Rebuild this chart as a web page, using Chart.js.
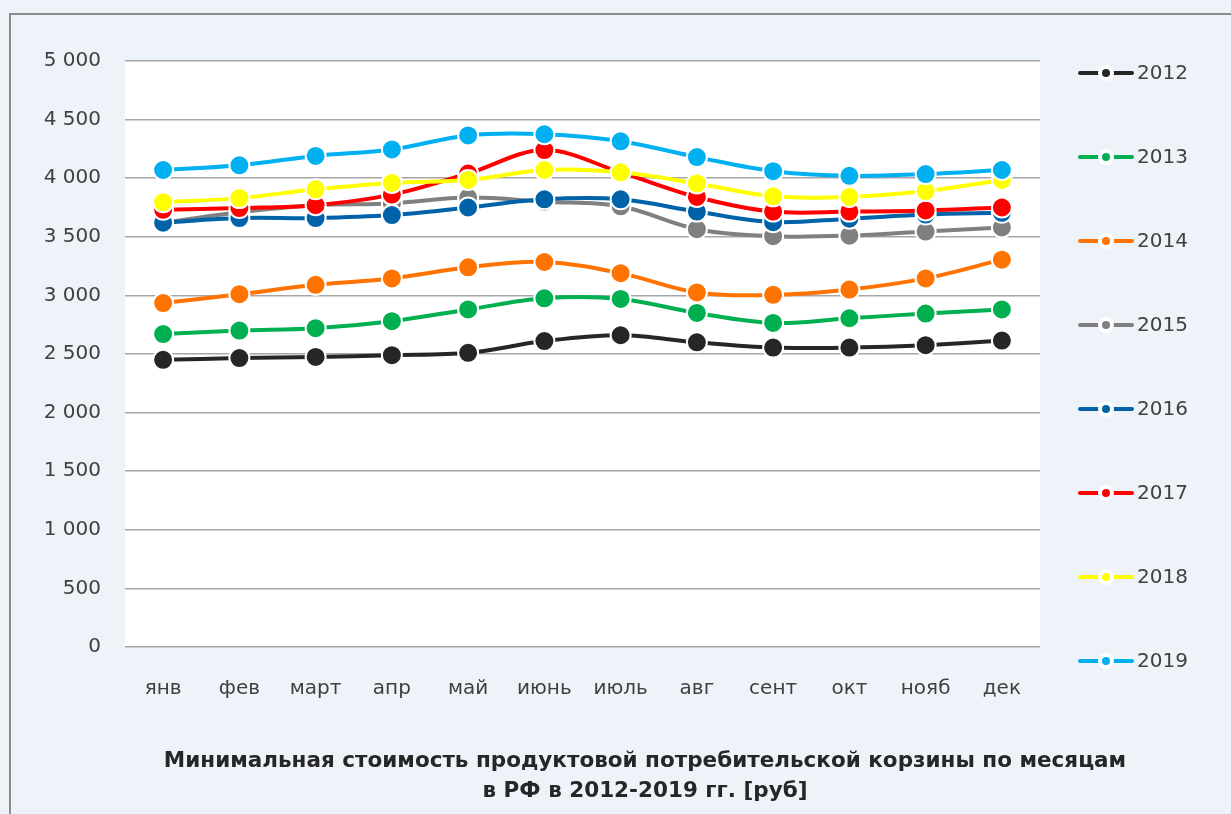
<!DOCTYPE html>
<html>
<head>
<meta charset="utf-8">
<script src="https://cdn.jsdelivr.net/npm/chart.js@4"></script>
<style>
  html, body { margin: 0; padding: 0; background: #eef2f9; }
  #wrap { width: 1231px; height: 814px; }
</style>
</head>
<body>
<div id="wrap"><canvas id="basketChart" width="1231" height="814"></canvas></div>
<script>
const months = ['янв', 'фев', 'март', 'апр', 'май', 'июнь', 'июль', 'авг', 'сент', 'окт', 'нояб', 'дек'];
const years = ['2012', '2013', '2014', '2015', '2016', '2017', '2018', '2019'];

const cost2012 = [2450, 2465, 2475, 2490, 2510, 2610, 2660, 2600, 2555, 2555, 2575, 2615];
const cost2013 = [2670, 2700, 2720, 2780, 2880, 2975, 2970, 2850, 2765, 2805, 2845, 2880];
const cost2014 = [2935, 3010, 3090, 3145, 3240, 3285, 3190, 3025, 3005, 3050, 3145, 3305];
const cost2015 = [3620, 3710, 3770, 3785, 3835, 3800, 3760, 3565, 3505, 3510, 3545, 3580];
const cost2016 = [3620, 3660, 3660, 3685, 3750, 3820, 3820, 3715, 3625, 3655, 3690, 3705];
const cost2017 = [3730, 3745, 3770, 3860, 4040, 4240, 4050, 3840, 3715, 3715, 3725, 3750];
const cost2018 = [3795, 3830, 3905, 3960, 3985, 4070, 4050, 3955, 3845, 3840, 3890, 3985];
const cost2019 = [4070, 4110, 4190, 4245, 4365, 4375, 4315, 4180, 4060, 4020, 4035, 4070];

const yTicks = [0, 500, 1000, 1500, 2000, 2500, 3000, 3500, 4000, 4500, 5000];
const chartTitle = ['Минимальная стоимость продуктовой потребительской корзины по месяцам', 'в РФ в 2012-2019 гг. [руб]'];

const seriesValues = [cost2012, cost2013, cost2014, cost2015, cost2016, cost2017, cost2018, cost2019];
const colors = ['#262626', '#00b050', '#ff7300', '#808080', '#0062a8', '#ff0000', '#ffff00', '#00b0f0'];

const FONT = 'DejaVu Sans';

// format 5000 -> "5 000"
function fmt(v) {
  return String(v).replace(/\B(?=(\d{3})+(?!\d))/g, ' ');
}

// page background, frame (top + left edge only) and white plot area
const backdrop = {
  id: 'backdrop',
  beforeDraw(chart) {
    const { ctx, chartArea } = chart;
    ctx.save();
    ctx.fillStyle = '#eef2f9';
    ctx.fillRect(0, 0, chart.width, chart.height);
    ctx.strokeStyle = '#8c8c8c';
    ctx.lineWidth = 2;
    ctx.beginPath();
    ctx.moveTo(10, chart.height);
    ctx.lineTo(10, 14);
    ctx.lineTo(chart.width, 14);
    ctx.stroke();
    ctx.fillStyle = '#ffffff';
    ctx.fillRect(chartArea.left, chartArea.top, chartArea.right - chartArea.left, chartArea.bottom - chartArea.top);
    ctx.restore();
  }
};

// legend on the right and the title underneath
const sideLegend = {
  id: 'sideLegend',
  afterDraw(chart) {
    const ctx = chart.ctx;
    ctx.save();
    chart.data.datasets.forEach((ds, i) => {
      const y = 73 + i * 84;
      ctx.strokeStyle = ds.borderColor;
      ctx.lineWidth = 4;
      ctx.lineCap = 'round';
      ctx.beginPath();
      ctx.moveTo(1080, y);
      ctx.lineTo(1132, y);
      ctx.stroke();
      ctx.fillStyle = '#ffffff';
      ctx.beginPath();
      ctx.arc(1106, y, 8, 0, Math.PI * 2);
      ctx.fill();
      ctx.fillStyle = ds.borderColor;
      ctx.beginPath();
      ctx.arc(1106, y, 4, 0, Math.PI * 2);
      ctx.fill();
      ctx.fillStyle = '#404040';
      ctx.font = '20px "' + FONT + '"';
      ctx.textAlign = 'left';
      ctx.textBaseline = 'middle';
      ctx.fillText(ds.label, 1137, y + 1);
    });
    ctx.fillStyle = '#262626';
    ctx.font = 'bold 21.5px "' + FONT + '"';
    ctx.textAlign = 'center';
    ctx.textBaseline = 'middle';
    ctx.fillText(chartTitle[0], 645, 761);
    ctx.fillText(chartTitle[1], 645, 791);
    ctx.restore();
  }
};

const ctx = document.getElementById('basketChart').getContext('2d');
const basketChart = new Chart(ctx, {
  type: 'line',
  data: {
    labels: months,
    datasets: years.map((year, i) => ({
      label: year,
      data: seriesValues[i],
      borderColor: colors[i],
      backgroundColor: colors[i],
      pointBackgroundColor: colors[i],
      pointBorderColor: '#ffffff',
      pointBorderWidth: 2,
      pointRadius: 10,
      pointHoverRadius: 10,
      borderWidth: 4,
      tension: 0.35,
      order: years.length - 1 - i,
      fill: false
    }))
  },
  options: {
    responsive: false,
    animation: false,
    layout: {
      padding: { left: 0, top: 61, right: 191, bottom: 107 }
    },
    plugins: {
      legend: { display: false },
      tooltip: { enabled: false }
    },
    scales: {
      x: {
        offset: true,
        grid: { display: false, drawTicks: false },
        border: { display: false },
        ticks: {
          color: '#404040',
          font: { family: FONT, size: 20 },
          padding: 30,
          maxRotation: 0,
          autoSkip: false
        },
        afterFit(scale) { scale.height = 60; }
      },
      y: {
        min: 0,
        max: 5000,
        afterBuildTicks(scale) {
          scale.ticks = yTicks.map(v => ({ value: v }));
        },
        grid: { color: '#a6a6a6', lineWidth: 1.5, drawTicks: false },
        border: { display: false },
        ticks: {
          color: '#404040',
          font: { family: FONT, size: 20 },
          padding: 24,
          callback: v => fmt(v)
        },
        afterFit(scale) { scale.width = 125; }
      }
    }
  },
  plugins: [backdrop, sideLegend]
});
</script>
</body>
</html>
